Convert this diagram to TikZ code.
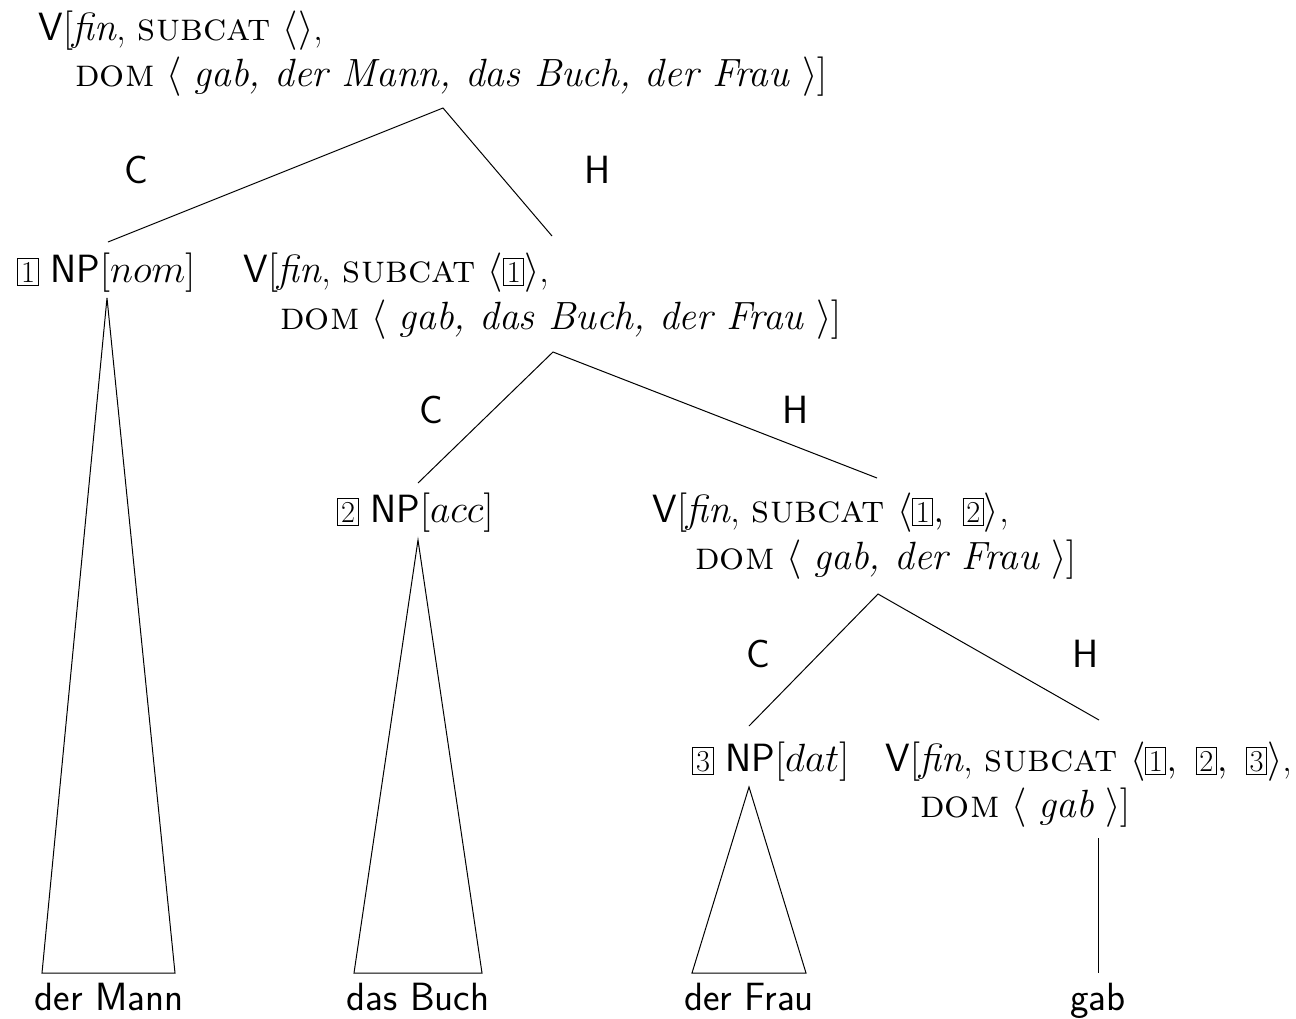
\RequirePackage{fix-cm}
\documentclass[tikz,border=0pt]{standalone}
% small boxed index used for structure sharing
\newcommand\tagbox[1]{{\setlength\fboxsep{1.3pt}\setlength\fboxrule{0.5pt}\fbox{\fontsize{15.2}{15.2}\selectfont\rmfamily #1}}}
\newcommand\cat[1]{\textsf{#1}}
\begin{document}
\begin{tikzpicture}[x=0.5pt,y=-0.5pt,
  lbl/.style={inner sep=0pt, anchor=base west, font=\fontsize{19.7}{23.5}\selectfont},
  word/.style={inner sep=0pt, anchor=base, font=\fontsize{19.7}{23.5}\selectfont\sffamily},
  role/.style={inner sep=0pt, anchor=center, font=\fontsize{19.7}{23.5}\selectfont\sffamily},
  branch/.style={line width=0.5pt},
]
\useasboundingbox (0,0) rectangle (1296,1018);

% node labels
\node[lbl] (root1) at (38,40) {\cat{V}[\textit{fin}, \textsc{subcat} $\langle\rangle$,};
\node[lbl] (root2) at (75,86) {\textsc{dom} $\langle$ \textit{gab, der Mann, das Buch, der Frau} $\rangle$]};

\node[lbl] (nom) at (17,282) {\tagbox{1} \cat{NP}$\big[nom\big]$};
\node[lbl] (vpa1) at (243,282) {\cat{V}[\textit{fin}, \textsc{subcat} $\bigl\langle\tagbox{1}\bigr\rangle$,};
\node[lbl] (vpa2) at (280,329) {\textsc{dom} $\langle$ \textit{gab, das Buch, der Frau} $\rangle$]};

\node[lbl] (acc) at (337,522) {\tagbox{2} \cat{NP}$\big[acc\big]$};
\node[lbl] (vpb1) at (652,522) {\cat{V}[\textit{fin}, \textsc{subcat} $\bigl\langle\tagbox{1},\ \tagbox{2}\bigr\rangle$,};
\node[lbl] (vpb2) at (695,569) {\textsc{dom} $\langle$ \textit{gab, der Frau} $\rangle$]};

\node[lbl] (dat) at (692,771) {\tagbox{3} \cat{NP}$\big[dat\big]$};
\node[lbl] (vpc1) at (885,771) {\cat{V}[\textit{fin}, \textsc{subcat} $\bigl\langle\tagbox{1},\ \tagbox{2},\ \tagbox{3}\bigr\rangle$,};
\node[lbl] (vpc2) at (920,817) {\textsc{dom} $\langle$ \textit{gab} $\rangle$]};

% words
\node[word] (w1) at (109,1010) {der Mann};
\node[word] (w2) at (418,1010) {das Buch};
\node[word] (w3) at (749,1010) {der Frau};
\node[word] (w4) at (1098,1010) {gab};

% complement / head labels
\node[role] (c1) at (136,170) {C};
\node[role] (h1) at (598,170) {H};
\node[role] (c2) at (431,410) {C};
\node[role] (h2) at (796,410) {H};
\node[role] (c3) at (758,654) {C};
\node[role] (h3) at (1086,654) {H};

% branching points
\coordinate (m0) at (443,108);
\coordinate (d1) at (108,242);
\coordinate (d2) at (552,236);
\coordinate (m1) at (553,352);
\coordinate (d3) at (418,483);
\coordinate (d4) at (877,478);
\coordinate (m2) at (878,594);
\coordinate (d5) at (749,726);
\coordinate (d6) at (1099,720);

\draw[branch] (d1) -- (m0) -- (d2);
\draw[branch] (d3) -- (m1) -- (d4);
\draw[branch] (d5) -- (m2) -- (d6);

% triangles over phrases
\coordinate (t1) at (107,298); \coordinate (t1l) at (42,973); \coordinate (t1r) at (175,973);
\coordinate (t2) at (418,540); \coordinate (t2l) at (354,973); \coordinate (t2r) at (482,973);
\coordinate (t3) at (749,787); \coordinate (t3l) at (692,973); \coordinate (t3r) at (806,973);
\draw[branch] (t1) -- (t1l) -- (t1r) -- cycle;
\draw[branch] (t2) -- (t2l) -- (t2r) -- cycle;
\draw[branch] (t3) -- (t3l) -- (t3r) -- cycle;

% head leaf
\coordinate (v1) at (1098,838); \coordinate (v2) at (1098,973);
\draw[branch] (v1) -- (v2);
\end{tikzpicture}
\end{document}
